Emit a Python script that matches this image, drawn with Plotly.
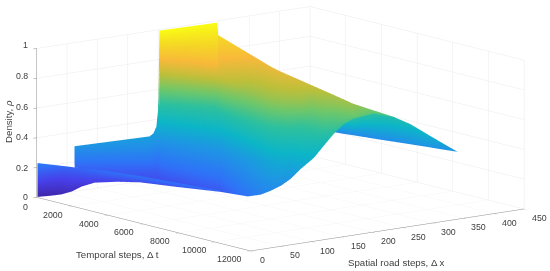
import plotly.graph_objects as go

# Surface, three sheets: main face, front fold, back flap
MAIN_T = [
    [0, 0, 70, 153, 229],
    [769, 1289, 1639, 1988, 2509],
    [435, 1145, 1550, 2005, 2736],
    [115, 899, 1407, 2001, 2828],
    [0, 349, 1092, 1713, 2924],
    [0, 0, 563, 1418, 2977],
    [121, 0, 0, 988, 3005],
    [246, 2013, 1926, 3495, 6152],
    [0, 2009, 2127, 3645, 6215],
    [1303, 3197, 4188, 5768, 8842],
    [2053, 4042, 5038, 6674, 9481],
    [2845, 4706, 5606, 7254, 9647],
    [3576, 5192, 5942, 7558, 9480],
    [4209, 5525, 6201, 7503, 9032],
    [4616, 5853, 6238, 7461, 8912],
    [5282, 5930, 6579, 7426, 8501],
    [5702, 6414, 6900, 7399, 7672],
    [6123, 6673, 6903, 7360, 7484],
    [6755, 7120, 7272, 7423, 7362],
    [7402, 7509, 7601, 7708, 7587],
    [7493, 7499, 7519, 7418, 7317],
    [7498, 7498, 7498, 7498, 7498],
]
MAIN_X = [
    [62.4, 62.4, 60.4, 58.0, 55.8],
    [163.2, 148.1, 138.0, 127.9, 112.8],
    [179.5, 158.9, 147.1, 134.0, 112.7],
    [193.8, 170.9, 156.2, 138.9, 114.9],
    [199.5, 189.3, 167.8, 149.8, 114.6],
    [201.0, 201.0, 184.7, 159.8, 114.6],
    [198.5, 202.0, 202.0, 173.2, 114.8],
    [290.1, 238.8, 241.4, 195.7, 118.7],
    [298.9, 240.6, 237.1, 193.1, 118.6],
    [307.0, 252.0, 223.3, 177.5, 88.2],
    [306.6, 248.9, 220.0, 172.4, 91.0],
    [300.0, 246.0, 219.9, 172.1, 102.6],
    [295.2, 248.3, 226.6, 179.6, 124.0],
    [293.3, 255.2, 235.5, 197.7, 153.4],
    [297.9, 262.1, 250.9, 215.3, 173.2],
    [299.8, 281.1, 262.2, 237.8, 206.6],
    [304.1, 283.4, 269.5, 254.8, 247.0],
    [308.4, 292.4, 285.7, 272.4, 268.8],
    [306.4, 295.9, 291.5, 287.0, 288.8],
    [304.1, 301.0, 298.4, 295.2, 298.7],
    [334.3, 334.1, 333.5, 336.5, 339.4],
    [370.3, 370.3, 370.3, 370.3, 370.3],
]
MAIN_RHO = [
    [0.304, 0.269, 0.236, 0.205, 0.173],
    [0.33, 0.284, 0.23, 0.176, 0.13],
    [0.33, 0.287, 0.229, 0.174, 0.132],
    [0.358, 0.306, 0.241, 0.18, 0.13],
    [0.456, 0.357, 0.276, 0.19, 0.131],
    [0.653, 0.488, 0.349, 0.224, 0.132],
    [1.0, 0.744, 0.492, 0.288, 0.132],
    [1.0, 0.8, 0.515, 0.307, 0.15],
    [0.902, 0.735, 0.48, 0.29, 0.15],
    [0.823, 0.672, 0.478, 0.312, 0.216],
    [0.793, 0.662, 0.485, 0.338, 0.246],
    [0.78, 0.66, 0.495, 0.365, 0.27],
    [0.77, 0.655, 0.5, 0.385, 0.285],
    [0.76, 0.65, 0.51, 0.4, 0.3],
    [0.74, 0.65, 0.52, 0.43, 0.35],
    [0.72, 0.63, 0.54, 0.46, 0.39],
    [0.7, 0.64, 0.57, 0.5, 0.42],
    [0.68, 0.64, 0.585, 0.54, 0.48],
    [0.67, 0.645, 0.61, 0.575, 0.53],
    [0.66, 0.64, 0.62, 0.6, 0.57],
    [0.6, 0.595, 0.59, 0.58, 0.57],
    [0.53, 0.53, 0.53, 0.53, 0.53],
]
FOLD_T = [
    [0, 4, 0], [10, 0, 282], [0, 122, 543], [215, 532, 829], [710, 751, 790],
    [1341, 1202, 1062], [2464, 2100, 1737], [3534, 3067, 2600], [5000, 4650, 4318], [7075, 6876, 6677],
]
FOLD_X = [
    [1.6, 1.5, 1.6], [21.0, 21.3, 13.1], [41.0, 37.5, 25.3], [51.2, 42.0, 33.4], [53.3, 52.1, 50.9],
    [56.3, 60.4, 64.4], [61.6, 72.1, 82.6], [66.5, 80.1, 93.8], [78.2, 88.3, 98.0], [95.2, 101.0, 106.7],
]
FOLD_RHO = [
    [0.229, 0.116, 0.002], [0.208, 0.102, 0.01], [0.186, 0.096, 0.02], [0.178, 0.111, 0.043], [0.182, 0.123, 0.064],
    [0.193, 0.138, 0.09], [0.2, 0.149, 0.105], [0.207, 0.16, 0.12], [0.203, 0.168, 0.141], [0.197, 0.18, 0.17],
]
FLAP_T = [
    [3548, 3121, 2695], [4919, 4059, 3199], [6096, 4849, 3602], [5820, 4963, 4106], [5825, 5217, 4610], [5839, 5527, 5215],
    [6106, 5862, 5618], [6731, 6603, 6474], [7617, 7424, 7230], [8203, 8094, 7986], [8839, 8841, 8843],
]
FLAP_X = [
    [386.4, 398.8, 411.1], [363.0, 388.0, 412.9], [342.0, 378.2, 414.4], [366.4, 391.3, 416.2], [382.7, 400.3, 418.0], [402.0, 411.1, 420.1],
    [407.4, 414.5, 421.6], [417.2, 420.9, 424.6], [416.1, 421.7, 427.3], [423.7, 426.9, 430.0], [433.2, 433.1, 433.1],
]
FLAP_RHO = [
    [0.3, 0.28, 0.26], [0.42, 0.342, 0.263], [0.5, 0.383, 0.266], [0.5, 0.385, 0.269], [0.5, 0.386, 0.272], [0.482, 0.379, 0.276],
    [0.47, 0.375, 0.279], [0.433, 0.359, 0.285], [0.4, 0.345, 0.29], [0.353, 0.324, 0.294], [0.3, 0.3, 0.3],
]
T_TICKS = [0, 2000, 4000, 6000, 8000, 10000, 12000]
X_TICKS = [0, 50, 100, 150, 200, 250, 300, 350, 400, 450]
RHO_TICKS = [0, 0.2, 0.4, 0.6, 0.8, 1]

PARULA = [[0, "#3E26A8"], [0.1, "#4740EA"], [0.2, "#2F72F8"], [0.3, "#1E96E4"], [0.4, "#0CB5C8"], [0.5, "#2CC09F"],
          [0.6, "#6EC76B"], [0.7, "#BDBF3A"], [0.8, "#F8B93A"], [0.9, "#F5D924"], [1, "#F9FB15"]]
FONT = "Liberation Sans"
TEXT_COLOR = "#404040"

fig = go.Figure()
for t, x, rho in ((MAIN_T, MAIN_X, MAIN_RHO), (FOLD_T, FOLD_X, FOLD_RHO), (FLAP_T, FLAP_X, FLAP_RHO)):
    fig.add_trace(go.Surface(
        x=t, y=x, z=rho, surfacecolor=rho, cmin=0, cmax=1, colorscale=PARULA, showscale=False, hoverinfo="skip",
        lighting=dict(ambient=1, diffuse=0, specular=0, fresnel=0, roughness=1),
    ))

axis_style = dict(
    showbackground=False, gridcolor="#ebebeb", gridwidth=1, showline=True, linecolor="#8c8c8c", linewidth=1,
    ticks="inside", ticklen=4, tickcolor="#8c8c8c", zeroline=False, showspikes=False, title=dict(text=""),
    showticklabels=False,
)

scale = 2.563
center = dict(x=-0.0243, y=-0.0311, z=-0.051)
dist = 3
fig.update_layout(
    width=550, height=271, margin=dict(l=0, r=0, t=0, b=0), paper_bgcolor="white", showlegend=False,
    scene=dict(
        domain=dict(x=[0, 1], y=[0, 1]),
        aspectmode="manual",
        aspectratio=dict(x=scale, y=scale, z=1.12),
        xaxis=dict(axis_style, range=[0, 12000], tickvals=T_TICKS),
        yaxis=dict(axis_style, range=[0, 450], tickvals=X_TICKS),
        zaxis=dict(axis_style, range=[0, 1], tickvals=RHO_TICKS),
        camera=dict(
            eye=dict(x=center["x"] + 0.772 * dist, y=center["y"] - 0.604 * dist, z=center["z"] + 0.196 * dist),
            up=dict(x=0, y=0, z=1), center=center, projection=dict(type="orthographic"),
        ),
    ),
)


def add_label(text, px, py, size, angle=0):
    fig.add_annotation(text=text, x=px / 550, y=1 - py / 271, xref="paper", yref="paper", xanchor="center", yanchor="middle",
                       showarrow=False, textangle=angle, font=dict(family=FONT, size=size, color=TEXT_COLOR))


# gl3d tick labels sit too close to the axes and drop the t=0 one, so they go on the page
T_LABEL_POS = [(25, 206.7), (53.3, 215), (89, 223.7), (124.3, 232.3), (160, 241.3), (194.3, 250.3), (229, 259.3)]
X_LABEL_POS = [(262.3, 260), (295, 255.3), (327.7, 250.7), (358.3, 246), (388.3, 241.3), (418.3, 236.7), (448.3, 232),
               (479, 227.3), (509, 223), (539, 218.3)]
RHO_LABEL_POS = [(25, 197.3), (21.7, 167.7), (21.7, 137), (21.7, 106.7), (21.7, 76), (25, 45)]
for ticks, spots in ((T_TICKS, T_LABEL_POS), (X_TICKS, X_LABEL_POS), (RHO_TICKS, RHO_LABEL_POS)):
    for value, (px, py) in zip(ticks, spots):
        add_label(f"{value:g}", px, py, 8.8)

add_label("Temporal steps, Δ t", 117, 254, 9.7)
add_label("Spatial road steps, Δ x", 396, 262, 9.7)
add_label("Density, <i>ρ</i>", 8, 122, 9.7, angle=-90)

# the default body margin would push the figure 8 px into the window
fig.write_html("out.html", config=dict(displayModeBar=False), post_script="document.body.style.margin = '0';")
